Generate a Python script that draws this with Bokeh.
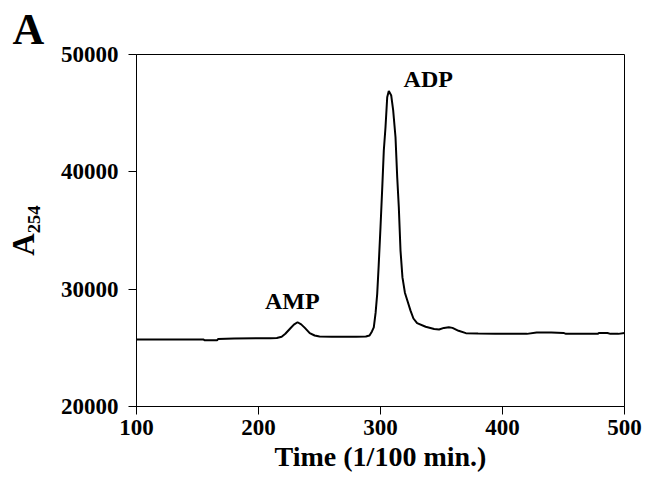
from bokeh.plotting import figure
from bokeh.models import Range1d, FixedTicker, Label, ColumnDataSource
from bokeh.embed import file_html
from bokeh.resources import INLINE

# ---- data ----
time = [100, 110, 120, 130, 140, 150, 155, 156, 166, 167, 180, 200, 210, 215,
        219, 222, 226, 229, 232, 235, 238, 242, 246, 250, 260, 270, 280, 288,
        291, 293, 294.5, 296, 297.3, 298.5, 300, 301.5, 302.7, 304.1, 305.5,
        306.8, 308.8, 310.4, 312.3, 313.7, 315, 316.4, 318, 320, 322, 324.6,
        327, 330, 337, 344, 348, 352, 356, 359, 364, 370, 380, 394, 410, 420,
        428, 440, 450, 452, 465, 478, 479, 486, 488.5, 495, 500]
a254 = [25720, 25720, 25720, 25720, 25720, 25720, 25700, 25640, 25640, 25760,
        25800, 25810, 25820, 25840, 25950, 26200, 26650, 26980, 27180, 27000,
        26700, 26250, 26050, 25960, 25950, 25950, 25950, 25960, 26050, 26400,
        26750, 28000, 29600, 32000, 35280, 38800, 41800, 43800, 46360, 46900,
        46500, 45230, 42950, 39540, 37000, 33290, 31000, 29700, 29030, 28170,
        27500, 27100, 26800, 26610, 26560, 26700, 26750, 26700, 26450, 26250,
        26220, 26190, 26190, 26190, 26300, 26300, 26270, 26190, 26190, 26190,
        26270, 26270, 26190, 26190, 26270]

x_ticks = [100, 200, 300, 400, 500]
y_ticks = [20000, 30000, 40000, 50000]

peak_names = ["AMP", "ADP"]
peak_label_x = [227.7, 318.9]
peak_label_y = [29000, 47900]
peak_align = ["center", "left"]

FONT = "Liberation Serif"

p = figure(width=645, height=479, output_backend="svg", toolbar_location=None,
           x_range=Range1d(100, 500), y_range=Range1d(20000, 50000),
           min_border_left=136, min_border_right=21, min_border_top=54,
           min_border_bottom=73,
           x_axis_label="Time (1/100 min.)", y_axis_label="A\u2082\u2085\u2084")

p.background_fill_color = "white"
p.border_fill_color = "white"
p.outline_line_color = "black"
p.outline_line_width = 1
p.grid.visible = False

# panel letter as title
p.title.text = "A"
p.title.align = "left"
p.title.offset = -124
p.title.standoff = 2
p.title.text_font = FONT
p.title.text_font_style = "bold"
p.title.text_font_size = "44px"
p.title.text_color = "black"

p.xaxis.ticker = FixedTicker(ticks=x_ticks)
p.yaxis.ticker = FixedTicker(ticks=y_ticks)
for ax in (p.xaxis[0], p.yaxis[0]):
    ax.axis_line_color = "black"
    ax.major_tick_line_color = "black"
    ax.minor_tick_line_color = None
    ax.major_tick_out = 8
    ax.major_tick_in = 0
    ax.major_label_text_font = FONT
    ax.major_label_text_font_style = "bold"
    ax.major_label_text_font_size = "23px"
    ax.major_label_text_color = "black"
    ax.axis_label_text_font = FONT
    ax.axis_label_text_font_style = "bold"
    ax.axis_label_text_color = "black"
p.yaxis.major_label_standoff = 10
p.xaxis.major_label_standoff = 5
p.xaxis.axis_label_text_font_size = "28px"
p.xaxis.axis_label_standoff = 3
p.yaxis.axis_label_text_font_size = "31px"
p.yaxis.axis_label_standoff = 17

src = ColumnDataSource(dict(t=time, a=a254))
p.line("t", "a", source=src, line_color="black", line_width=2)

for name, lx, ly, al in zip(peak_names, peak_label_x, peak_label_y, peak_align):
    p.add_layout(Label(x=lx, y=ly, text=name, text_font=FONT, text_font_style="bold",
                       text_font_size="24px", text_color="black",
                       text_align=al, text_baseline="alphabetic"))

open("out.html", "w").write(file_html(p, INLINE))
